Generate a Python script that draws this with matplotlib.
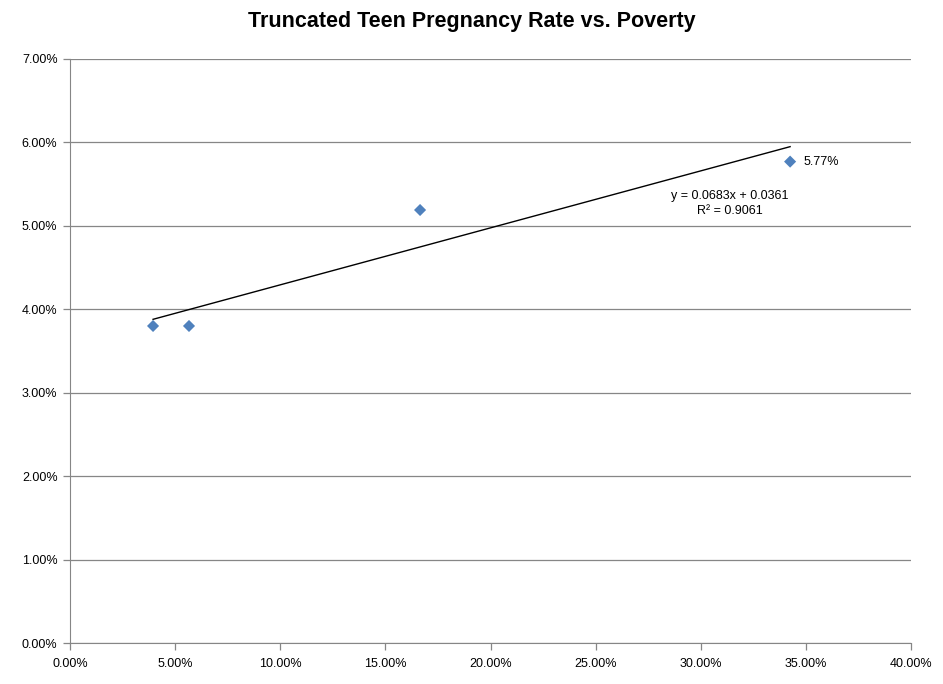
import numpy as np
import matplotlib
matplotlib.use("Agg")
import matplotlib.pyplot as plt
from matplotlib.ticker import FuncFormatter, MultipleLocator

# poverty rate vs. teen pregnancy rate
poverty = [0.0395, 0.0566, 0.1665, 0.3425]
pregnancy = [0.0380, 0.0380, 0.0519, 0.0577]
slope, intercept = 0.0683, 0.0361
r_squared = 0.9061

plt.rcParams['font.family'] = ['Liberation Sans', 'DejaVu Sans']

fig = plt.figure(figsize=(9.43, 6.84), dpi=100)
ax = fig.add_axes([70 / 943, 41 / 684, 841 / 943, 584 / 684])

ax.scatter(poverty, pregnancy, marker='D', s=38, color='#4f81bd', zorder=3,
           edgecolors='none')

# linear trendline across the data range
tx = np.array([min(poverty), max(poverty)])
ax.plot(tx, slope * tx + intercept, color='black', lw=1.0, zorder=2)

ax.annotate(f"{pregnancy[-1] * 100:.2f}%", (poverty[-1], pregnancy[-1]),
            xytext=(10, 0), textcoords='offset points', va='center',
            ha='left', fontsize=9)
ax.text(0.314, 0.0511, f"y = {slope}x + {intercept}\nR² = {r_squared}",
        ha='center', va='bottom', fontsize=9, linespacing=1.25)

ax.set_xlim(0, 0.40)
ax.set_ylim(0, 0.07)
ax.xaxis.set_major_locator(MultipleLocator(0.05))
ax.yaxis.set_major_locator(MultipleLocator(0.01))
pct = FuncFormatter(lambda v, _: f"{v * 100:.2f}%")
ax.xaxis.set_major_formatter(pct)
ax.yaxis.set_major_formatter(pct)

ax.grid(axis='y', color='#868686', lw=0.9)
ax.set_axisbelow(True)
for s in ['top', 'right']:
    ax.spines[s].set_visible(False)
for s in ['left', 'bottom']:
    ax.spines[s].set_color('#868686')
ax.tick_params(colors='#868686', labelcolor='black', labelsize=9,
               length=5, width=0.9)
ax.tick_params(axis='x', pad=6)
ax.tick_params(axis='y', pad=4)

fig.text(0.5, 1 - 22 / 684, "Truncated Teen Pregnancy Rate vs. Poverty",
         ha='center', va='center', fontsize=15.5, fontweight='bold')

fig.savefig("out.png", dpi=100)
